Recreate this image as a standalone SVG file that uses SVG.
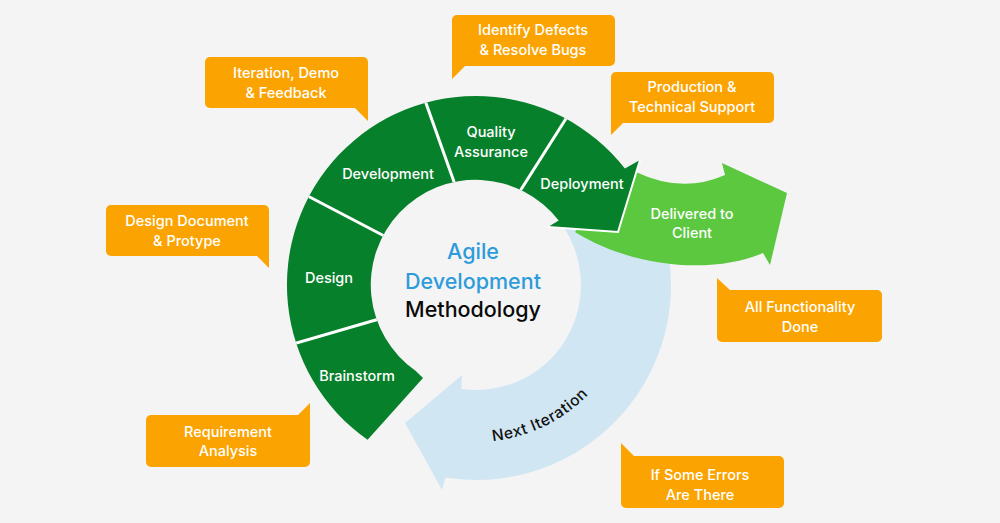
<svg xmlns="http://www.w3.org/2000/svg" width="1000" height="523" viewBox="0 0 1000 523">
<style>
.t{font-family:Inter,"Open Sans","Liberation Sans",sans-serif;font-weight:500;text-anchor:middle}
.w{fill:#ffffff;font-size:14.5px}
.c{font-size:21.5px}
.co{fill:#FBA301}
.div{stroke:#ffffff;stroke-width:3;fill:none}
</style>
<defs>
<clipPath id="ringClip"><path d="M367.6,439.8 A189,189 0 1 1 624.9,168.6 L640,160 L618,232 L548,227 L558.7,220.4 A105,105 0 1 0 415.8,371 L423,378 Z"/></clipPath>
<path id="niPath" d="M438,437.3 A157,157 0 0 0 619.4,348.9"/>
</defs>
<rect width="1000" height="523" fill="#F4F4F4"/>

<g id="next-iteration">
<path d="M644.9,187.5 A195,195 0 0 1 445.5,477.6 L442,490 L405,423 L462,375 L461.4,389 A105,105 0 0 0 563,226.3 Z" fill="#D1E6F3"/>
<text class="t" font-size="15.5" font-weight="400" letter-spacing="0.6" fill="#111111"><textPath href="#niPath" startOffset="50%">Next Iteration</textPath></text>
</g>

<g id="delivered">
<path d="M600,200 L636,172 Q682,194 725,175 L722,163 L787,193 L770,265 L763,253 C720,272 640,272 575,232 Z" fill="#5BC83F"/>
<text class="t w" x="692" y="219">Delivered to</text>
<text class="t w" x="692" y="238">Client</text>
</g>

<g id="ring">
<path d="M367.6,439.8 A189,189 0 1 1 624.9,168.6 L640,160 L618,232 L548,227 L558.7,220.4 A105,105 0 1 0 415.8,371 L423,378 Z" fill="#07802B"/>
</g>

<g id="connectors">
<g clip-path="url(#ringClip)">
<line class="div" x1="286" y1="346" x2="386" y2="317"/>
<line class="div" x1="302" y1="193" x2="390" y2="239"/>
<line class="div" x1="422" y1="92" x2="458" y2="193"/>
<line class="div" x1="574" y1="106" x2="515" y2="199"/>
</g>
<polyline points="640,160 618,232 548,227" fill="none" stroke="#ffffff" stroke-width="2"/>
</g>

<g id="brainstorm"><text class="t w" x="357" y="381">Brainstorm</text></g>
<g id="design"><text class="t w" x="329" y="283">Design</text></g>
<g id="development"><text class="t w" x="388" y="179">Development</text></g>
<g id="qa"><text class="t w" x="491" y="137">Quality</text><text class="t w" x="491" y="157">Assurance</text></g>
<g id="deployment"><text class="t w" x="582" y="189">Deployment</text></g>

<g id="center">
<text class="t c" x="473" y="259" fill="#2E9BDB">Agile</text>
<text class="t c" x="473" y="289" fill="#2E9BDB">Development</text>
<text class="t c" x="473" y="317" fill="#0A0A0A">Methodology</text>
</g>

<g id="callout-iteration">
<rect class="co" x="205" y="57" width="163" height="51" rx="5"/>
<polygon class="co" points="350,100 368,100 368,121 355,108 350,108"/>
<text class="t w" x="286" y="78">Iteration, Demo</text>
<text class="t w" x="286" y="98">&amp; Feedback</text>
</g>

<g id="callout-design">
<rect class="co" x="106" y="205" width="163" height="51" rx="5"/>
<polygon class="co" points="250,248 269,248 269,268 257,256 250,256"/>
<text class="t w" x="187" y="226">Design Document</text>
<text class="t w" x="187" y="246">&amp; Protype</text>
</g>

<g id="callout-defects">
<rect class="co" x="452" y="15" width="163" height="51" rx="5"/>
<polygon class="co" points="452,58 470,58 470,66 465,66 452,79"/>
<text class="t w" x="533" y="35">Identify Defects</text>
<text class="t w" x="533" y="55">&amp; Resolve Bugs</text>
</g>

<g id="callout-production">
<rect class="co" x="611" y="72" width="163" height="51" rx="5"/>
<polygon class="co" points="611,115 628,115 628,123 623,123 611,135"/>
<text class="t w" x="692" y="92">Production &amp;</text>
<text class="t w" x="692" y="112">Technical Support</text>
</g>

<g id="callout-done">
<rect class="co" x="717" y="290" width="165" height="52" rx="5"/>
<polygon class="co" points="717,278 730,290 735,290 735,298 717,298"/>
<text class="t w" x="800" y="312">All Functionality</text>
<text class="t w" x="800" y="332">Done</text>
</g>

<g id="callout-errors">
<rect class="co" x="621" y="456" width="163" height="52" rx="5"/>
<polygon class="co" points="621,443 634,456 638,456 638,464 621,464"/>
<text class="t w" x="700" y="480">If Some Errors</text>
<text class="t w" x="700" y="500">Are There</text>
</g>

<g id="callout-requirement">
<rect class="co" x="146" y="415" width="164" height="52" rx="5"/>
<polygon class="co" points="310,403 310,423 292,423 292,415 298,415"/>
<text class="t w" x="228" y="437">Requirement</text>
<text class="t w" x="228" y="456">Analysis</text>
</g>
</svg>
